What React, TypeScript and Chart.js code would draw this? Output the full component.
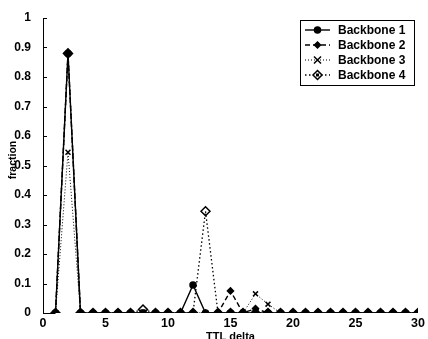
import React, { useEffect, useRef } from "react";
import { Chart, registerables } from "chart.js";

Chart.register(...registerables);

const xValues = [1,2,3,4,5,6,7,8,9,10,11,12,13,14,15,16,17,18,19,20,21,22,23,24,25,26,27,28,29,30];
const backbone1 = [0,0.88,0,0,0,0,0,0,0,0,0,0.095,0,0,0,0,0,0,0,0,0,0,0,0,0,0,0,0,0,0];
const backbone2 = [0,0.88,0,0,0,0,0,0,0,0,0,0,0,0,0.075,0,0.015,0,0,0,0,0,0,0,0,0,0,0,0,0];
const backbone3 = [0,0.545,0,0,0,0,0,0,0,0,0,0,0,0,0,0,0.065,0.03,0,0,0,0,0,0,0,0,0,0,0,0];
const backbone4 = [0,0.88,0,0,0,0,0,0.012,0,0,0,0,0.345,0,0,0,0,0,0,0,0,0,0,0,0,0,0,0,0,0];
const seriesNames = ["Backbone 1", "Backbone 2", "Backbone 3", "Backbone 4"];
const yTicks = [0,0.1,0.2,0.3,0.4,0.5,0.6,0.7,0.8,0.9,1];

const FONT = "'Liberation Sans', Arial, sans-serif";

const styles = [
  { dash: [], pointStyle: "circle", radius: 3, fill: "#000", width: 1.4 },
  { dash: [5, 3], pointStyle: "rectRot", radius: 3, fill: "#000", width: 1.4 },
  { dash: [1, 2], pointStyle: "crossRot", radius: 3.5, fill: "#fff", width: 1 },
  { dash: [1.5, 2.5], pointStyle: "rectRot", radius: 4.5, fill: "rgba(255,255,255,0)", width: 1.3 },
];

function drawMarker(ctx: CanvasRenderingContext2D, style: string, r: number, x: number, y: number, fill: string) {
  ctx.save();
  ctx.strokeStyle = "#000";
  ctx.fillStyle = fill;
  ctx.lineWidth = 1.5;
  ctx.beginPath();
  if (style === "circle") {
    ctx.arc(x, y, r, 0, Math.PI * 2);
    ctx.fill();
    ctx.stroke();
  } else if (style === "rectRot") {
    ctx.moveTo(x, y - r);
    ctx.lineTo(x + r, y);
    ctx.lineTo(x, y + r);
    ctx.lineTo(x - r, y);
    ctx.closePath();
    ctx.fill();
    ctx.stroke();
  } else {
    ctx.moveTo(x - r, y - r);
    ctx.lineTo(x + r, y + r);
    ctx.moveTo(x + r, y - r);
    ctx.lineTo(x - r, y + r);
    ctx.stroke();
  }
  ctx.restore();
}

const axesPlugin = {
  id: "matlabAxes",
  afterDraw(chart: any) {
    const { ctx, chartArea, scales } = chart;
    const y = scales.y;
    ctx.save();
    ctx.strokeStyle = "#000";
    ctx.lineWidth = 1;
    ctx.setLineDash([]);
    ctx.beginPath();
    ctx.moveTo(chartArea.left + 0.5, chartArea.top);
    ctx.lineTo(chartArea.left + 0.5, chartArea.bottom);
    ctx.moveTo(chartArea.left, chartArea.bottom + 0.5);
    ctx.lineTo(scales.x.getPixelForValue(1), chartArea.bottom + 0.5);
    yTicks.forEach((t) => {
      const py = Math.round(y.getPixelForValue(t)) + 0.5;
      ctx.moveTo(chartArea.left, py);
      ctx.lineTo(chartArea.left + 4, py);
    });
    ctx.stroke();

    ctx.fillStyle = "#000";
    ctx.font = "bold 11px " + FONT;
    ctx.textAlign = "center";
    ctx.textBaseline = "middle";
    ctx.fillText("TTL delta", (chartArea.left + chartArea.right) / 2, 337);
    ctx.save();
    ctx.translate(13, 160);
    ctx.rotate(-Math.PI / 2);
    ctx.font = "bold 10.5px " + FONT;
    ctx.fillText("fraction", 0, 0);
    ctx.restore();

    const bx = 300, by = 20, bw = 114, bh = 65;
    ctx.fillStyle = "#fff";
    ctx.fillRect(bx, by, bw, bh);
    ctx.strokeStyle = "#000";
    ctx.lineWidth = 1;
    ctx.strokeRect(bx + 0.5, by + 0.5, bw, bh);
    chart.data.datasets.forEach((ds: any, i: number) => {
      const st = styles[i];
      const ly = by + 10 + i * 15;
      ctx.beginPath();
      ctx.setLineDash(st.dash);
      ctx.lineWidth = st.width;
      ctx.strokeStyle = "#000";
      ctx.moveTo(305, ly);
      ctx.lineTo(330, ly);
      ctx.stroke();
      ctx.setLineDash([]);
      drawMarker(ctx, st.pointStyle, st.radius, 317.5, ly, i === 3 ? "#fff" : st.fill);
      if (i === 3) {
        ctx.fillStyle = "#000";
        ctx.fillRect(316, ly - 1.5, 3, 3);
      }
      ctx.fillStyle = "#000";
      ctx.font = "bold 12px " + FONT;
      ctx.textAlign = "left";
      ctx.textBaseline = "middle";
      ctx.fillText(ds.label, 338, ly + 0.5);
    });
    ctx.restore();
  },
};

export default function App() {
  const ref = useRef<HTMLCanvasElement>(null);
  useEffect(() => {
    const all = [backbone1, backbone2, backbone3, backbone4];
    const chart = new Chart(ref.current!, {
      type: "line",
      data: {
        datasets: all.map((vals, i) => ({
          label: seriesNames[i],
          data: xValues.map((x, j) => ({ x, y: vals[j] })),
          order: 4 - i,
          borderColor: "#000",
          borderWidth: styles[i].width,
          borderDash: styles[i].dash,
          pointStyle: styles[i].pointStyle as any,
          pointRadius: styles[i].radius,
          pointBackgroundColor: styles[i].fill,
          pointBorderColor: "#000",
          pointBorderWidth: 1.5,
          tension: 0,
          fill: false,
        })),
      },
      options: {
        animation: false,
        responsive: false,
        events: [],
        layout: { padding: { top: 18, right: 10, left: 0, bottom: 0 } },
        plugins: { legend: { display: false }, tooltip: { enabled: false } },
        scales: {
          x: {
            type: "linear",
            min: 0,
            max: 30,
            grid: { display: false },
            border: { display: false },
            ticks: {
              stepSize: 5,
              color: "#000",
              padding: -5,
              maxRotation: 0,
              font: { family: FONT, size: 12.5, weight: "bold" },
            },
            afterFit: (s: any) => { s.height = 26; },
          },
          y: {
            min: 0,
            max: 1,
            grid: { display: false },
            border: { display: false },
            ticks: {
              stepSize: 0.1,
              color: "#000",
              padding: 4,
              font: { family: FONT, size: 12, weight: "bold" },
              callback: (v: any) => {
                const n = Math.round(Number(v) * 10) / 10;
                return n === 0 ? "0" : n === 1 ? "1" : String(n);
              },
            },
            afterFit: (s: any) => { s.width = 43; },
          },
        },
      },
      plugins: [axesPlugin],
    });
    return () => chart.destroy();
  }, []);
  return (
    <div style={{ position: "fixed", left: 0, top: 0, width: 428, height: 339, background: "#fff" }}>
      <canvas ref={ref} width={428} height={339} style={{ display: "block" }} />
    </div>
  );
}
